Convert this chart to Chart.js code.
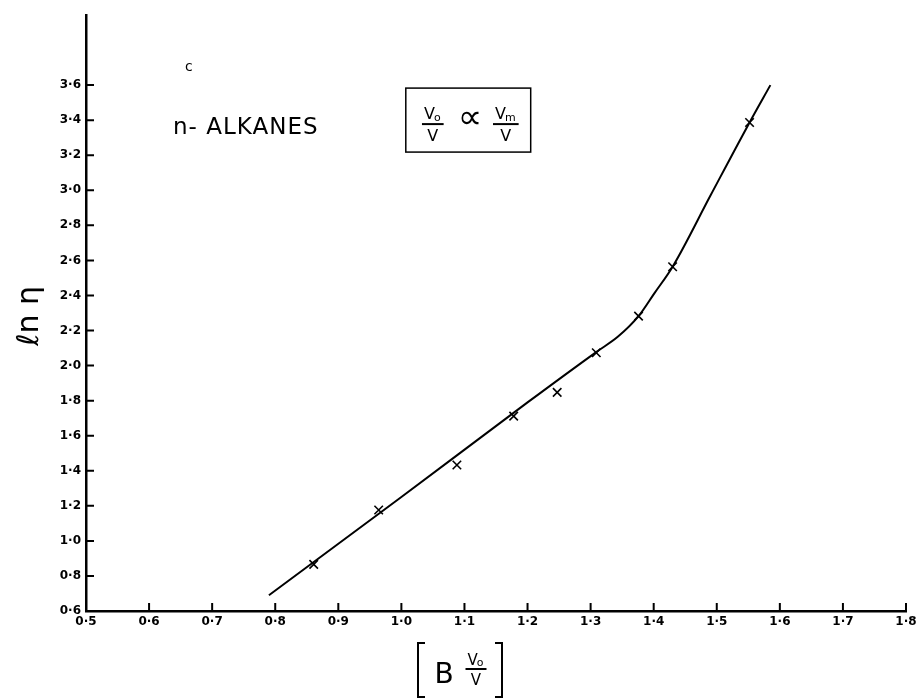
<!DOCTYPE html>
<html>
<head>
<meta charset="utf-8">
<script src="https://cdn.jsdelivr.net/npm/chart.js@4.4.1/dist/chart.umd.min.js"></script>
<style>
  html, body { margin: 0; padding: 0; background: #fff; }
  #wrap { width: 922px; height: 698px; }
</style>
</head>
<body>
<div id="wrap"><canvas id="chart" width="922" height="698"></canvas></div>
<script>
// measured points (crosses)
var pointX = [0.861, 0.964, 1.088, 1.178, 1.247, 1.309, 1.376, 1.430, 1.552];
var pointY = [0.866, 1.176, 1.433, 1.712, 1.847, 2.073, 2.282, 2.564, 3.387];

// drawn curve
var curveX = [0.79, 1.00, 1.20, 1.31, 1.343, 1.376, 1.401, 1.43, 1.49, 1.552, 1.585];
var curveY = [0.69, 1.25, 1.79, 2.08, 2.164, 2.282, 2.412, 2.564, 2.97, 3.387, 3.60];

var xTickValues = [0.5, 0.6, 0.7, 0.8, 0.9, 1.0, 1.1, 1.2, 1.3, 1.4, 1.5, 1.6, 1.7, 1.8];
var xTickLabels = ['0·5','0·6','0·7','0·8','0·9','1·0','1·1','1·2','1·3','1·4','1·5','1·6','1·7','1·8'];
var yTickValues = [0.6, 0.8, 1.0, 1.2, 1.4, 1.6, 1.8, 2.0, 2.2, 2.4, 2.6, 2.8, 3.0, 3.2, 3.4, 3.6];
var yTickLabels = ['0·6','0·8','1·0','1·2','1·4','1·6','1·8','2·0','2·2','2·4','2·6','2·8','3·0','3·2','3·4','3·6'];

var seriesLabel = 'n- ALKANES';
var cornerLetter = 'c';

var toXY = function(xs, ys){ return xs.map(function(v, i){ return {x: v, y: ys[i]}; }); };

var FONT = '"DejaVu Sans", "Liberation Sans", sans-serif';

// little helper: V with a subscript, over V
function drawFrac(ctx, cx, lineY, sub, size){
  ctx.fillStyle = '#000';
  ctx.textBaseline = 'alphabetic';
  ctx.font = size + 'px ' + FONT;
  var wV = ctx.measureText('V').width;
  ctx.font = Math.round(size*0.7) + 'px ' + FONT;
  var wS = ctx.measureText(sub).width;
  var w = wV + wS;
  ctx.font = size + 'px ' + FONT;
  ctx.textAlign = 'left';
  ctx.fillText('V', cx - w/2, lineY - size*0.3);
  ctx.font = Math.round(size*0.7) + 'px ' + FONT;
  ctx.fillText(sub, cx - w/2 + wV - 1, lineY - size*0.2);
  ctx.lineWidth = 2;
  ctx.beginPath();
  ctx.moveTo(cx - w/2 - 2, lineY);
  ctx.lineTo(cx + w/2 + 2, lineY);
  ctx.stroke();
  ctx.font = size + 'px ' + FONT;
  ctx.textAlign = 'center';
  ctx.fillText('V', cx, lineY + size*1.05);
}

var figurePlugin = {
  id: 'figure',
  beforeDraw: function(chart){
    var ctx = chart.ctx;
    ctx.save();
    ctx.fillStyle = '#fff';
    ctx.fillRect(0, 0, chart.width, chart.height);
    ctx.restore();
  },
  afterDraw: function(chart){
    var ctx = chart.ctx, x = chart.scales.x, y = chart.scales.y, a = chart.chartArea;
    ctx.save();
    ctx.strokeStyle = '#000';
    ctx.fillStyle = '#000';

    // inward tick marks
    ctx.lineWidth = 2;
    ctx.beginPath();
    xTickValues.slice(1).forEach(function(v){
      var px = x.getPixelForValue(v);
      ctx.moveTo(px, a.bottom);
      ctx.lineTo(px, a.bottom - 8);
    });
    yTickValues.slice(1).forEach(function(v){
      var py = y.getPixelForValue(v);
      ctx.moveTo(a.left, py);
      ctx.lineTo(a.left + 8, py);
    });
    ctx.stroke();

    // corner letter
    ctx.font = '14px ' + FONT;
    ctx.textAlign = 'center';
    ctx.textBaseline = 'middle';
    ctx.fillText(cornerLetter, x.getPixelForValue(0.663), y.getPixelForValue(3.70));

    // series name
    ctx.font = '23px ' + FONT;
    ctx.textAlign = 'left';
    if ('letterSpacing' in ctx) ctx.letterSpacing = '1px';
    ctx.fillText(seriesLabel, x.getPixelForValue(0.638), y.getPixelForValue(3.355));
    if ('letterSpacing' in ctx) ctx.letterSpacing = '0px';

    // boxed relation
    var bl = x.getPixelForValue(1.007), br = x.getPixelForValue(1.205);
    var bt = y.getPixelForValue(3.583), bb = y.getPixelForValue(3.218);
    ctx.lineWidth = 1.5;
    ctx.strokeRect(bl, bt, br - bl, bb - bt);
    drawFrac(ctx, bl + 27, bt + 36, 'o', 16);
    ctx.font = '34px ' + FONT;
    ctx.textAlign = 'center';
    ctx.textBaseline = 'middle';
    ctx.fillText('∝', bl + 64, bt + 31);
    drawFrac(ctx, bl + 100, bt + 36, 'm', 16);

    // y axis title
    ctx.save();
    ctx.translate(30, 316);
    ctx.rotate(-Math.PI/2);
    ctx.font = '30px ' + FONT;
    ctx.textAlign = 'center';
    ctx.textBaseline = 'middle';
    ctx.fillText('ℓn η', 0, 0);
    ctx.restore();

    // x axis title [B Vo/V]
    var top = 643, bot = 697;
    ctx.lineWidth = 2;
    ctx.beginPath();
    ctx.moveTo(425, top); ctx.lineTo(418, top); ctx.lineTo(418, bot); ctx.lineTo(425, bot);
    ctx.moveTo(495, top); ctx.lineTo(502, top); ctx.lineTo(502, bot); ctx.lineTo(495, bot);
    ctx.stroke();
    ctx.font = '28px ' + FONT;
    ctx.textAlign = 'center';
    ctx.textBaseline = 'alphabetic';
    ctx.fillText('B', 444, 683);
    drawFrac(ctx, 476, 669, 'o', 15);

    ctx.restore();
  }
};

new Chart(document.getElementById('chart').getContext('2d'), {
  type: 'scatter',
  data: {
    datasets: [{
      label: 'curve',
      data: toXY(curveX, curveY),
      showLine: true,
      borderColor: '#000',
      borderWidth: 2,
      pointRadius: 0,
      cubicInterpolationMode: 'monotone',
      fill: false
    }, {
      label: 'points',
      data: toXY(pointX, pointY),
      showLine: false,
      pointStyle: 'crossRot',
      pointRadius: 6,
      borderColor: '#000',
      backgroundColor: '#000',
      pointBorderWidth: 1.6
    }]
  },
  options: {
    responsive: false,
    animation: false,
    layout: { padding: { left: 0, right: 16, top: 15, bottom: 0 } },
    plugins: { legend: { display: false }, tooltip: { enabled: false } },
    scales: {
      x: {
        type: 'linear', min: 0.5, max: 1.8,
        afterBuildTicks: function(axis){ axis.ticks = xTickValues.map(function(v){ return {value: v}; }); },
        afterFit: function(axis){ axis.height = 87; },
        grid: { display: false, drawTicks: false },
        border: { display: true, color: '#000', width: 2.5 },
        ticks: {
          autoSkip: false, maxRotation: 0, padding: 4, color: '#000',
          font: { family: FONT, size: 12, weight: 'bold' },
          callback: function(v, i){ return xTickLabels[i]; }
        }
      },
      y: {
        type: 'linear', min: 0.6, max: 4.0,
        afterBuildTicks: function(axis){ axis.ticks = yTickValues.map(function(v){ return {value: v}; }); },
        afterFit: function(axis){ axis.width = 86; },
        grid: { display: false, drawTicks: false },
        border: { display: true, color: '#000', width: 2.5 },
        ticks: {
          autoSkip: false, padding: 5, color: '#000',
          font: { family: FONT, size: 12, weight: 'bold' },
          callback: function(v, i){ return yTickLabels[i]; }
        }
      }
    }
  },
  plugins: [figurePlugin]
});
</script>
</body>
</html>
